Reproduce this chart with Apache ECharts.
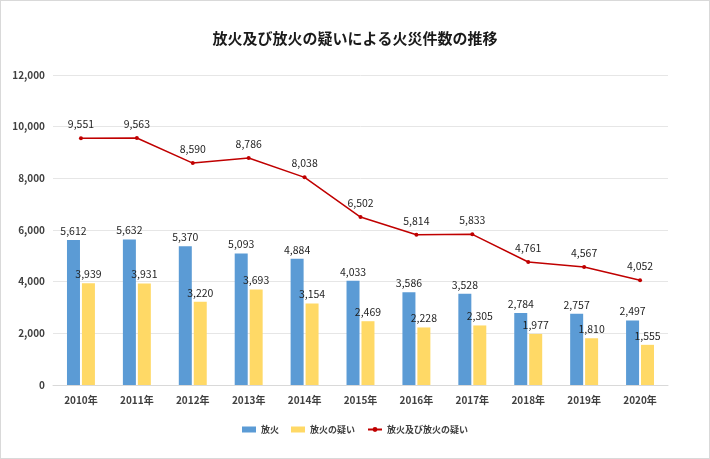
<!DOCTYPE html>
<html>
<head>
<meta charset="utf-8">
<script src="https://cdn.jsdelivr.net/npm/echarts@6/dist/echarts.min.js"></script>
<style>
  html, body { margin: 0; padding: 0; background: #fff; }
  #main { width: 708px; height: 457px; border: 1px solid #d9d9d9; }
</style>
</head>
<body>
<div id="main"></div>
<script>
var years = ['2010年', '2011年', '2012年', '2013年', '2014年', '2015年', '2016年', '2017年', '2018年', '2019年', '2020年'];
var houka = [5612, 5632, 5370, 5093, 4884, 4033, 3586, 3528, 2784, 2757, 2497];
var utagai = [3939, 3931, 3220, 3693, 3154, 2469, 2228, 2305, 1977, 1810, 1555];
var goukei = [9551, 9563, 8590, 8786, 8038, 6502, 5814, 5833, 4761, 4567, 4052];

var font = '"Noto Sans CJK JP", "Noto Sans", sans-serif';
var labelFmt = function (p) { return p.value.toLocaleString('en-US'); };
var valLabel = { show: true, position: 'top', color: '#1f1f1f', fontSize: 10.5, formatter: labelFmt };

var chart = echarts.init(document.getElementById('main'));
chart.setOption({
    animation: false,
    textStyle: { fontFamily: font },
    title: {
        text: '放火及び放火の疑いによる火災件数の推移',
        left: 'center',
        top: 25,
        textStyle: { fontSize: 15, fontWeight: 'bold', color: '#1a1a1a', fontFamily: font }
    },
    grid: { left: 52, right: 41, top: 74, bottom: 73 },
    legend: {
        bottom: 19,
        itemGap: 12,
        itemWidth: 14,
        itemHeight: 6,
        textStyle: { fontSize: 9, color: '#404040', fontWeight: 'bold' },
        data: [
            { name: '放火', icon: 'rect' },
            { name: '放火の疑い', icon: 'rect' },
            { name: '放火及び放火の疑い' }
        ]
    },
    xAxis: {
        type: 'category',
        data: years,
        axisLine: { lineStyle: { color: '#d9d9d9' } },
        axisTick: { show: false },
        axisLabel: { color: '#404040', fontSize: 10, fontWeight: 'bold', margin: 10 }
    },
    yAxis: {
        type: 'value',
        min: 0,
        max: 12000,
        interval: 2000,
        axisLine: { show: false },
        axisTick: { show: false },
        splitLine: { lineStyle: { color: '#e6e6e6' } },
        axisLabel: {
            color: '#404040', fontSize: 10, fontWeight: 'bold', margin: 8,
            formatter: function (v) { return v.toLocaleString('en-US'); }
        }
    },
    series: [
        {
            name: '放火',
            type: 'bar',
            data: houka,
            barWidth: 13,
            barGap: '15%',
            itemStyle: { color: '#5b9bd5' },
            label: Object.assign({ distance: 4 }, valLabel)
        },
        {
            name: '放火の疑い',
            type: 'bar',
            data: utagai,
            barWidth: 13,
            itemStyle: { color: '#ffd966' },
            label: Object.assign({ distance: 4 }, valLabel)
        },
        {
            name: '放火及び放火の疑い',
            type: 'line',
            data: goukei,
            symbol: 'circle',
            symbolSize: 4,
            lineStyle: { color: '#c00000', width: 1.5 },
            itemStyle: { color: '#c00000' },
            label: Object.assign({ distance: 7 }, valLabel)
        }
    ]
});
</script>
</body>
</html>
